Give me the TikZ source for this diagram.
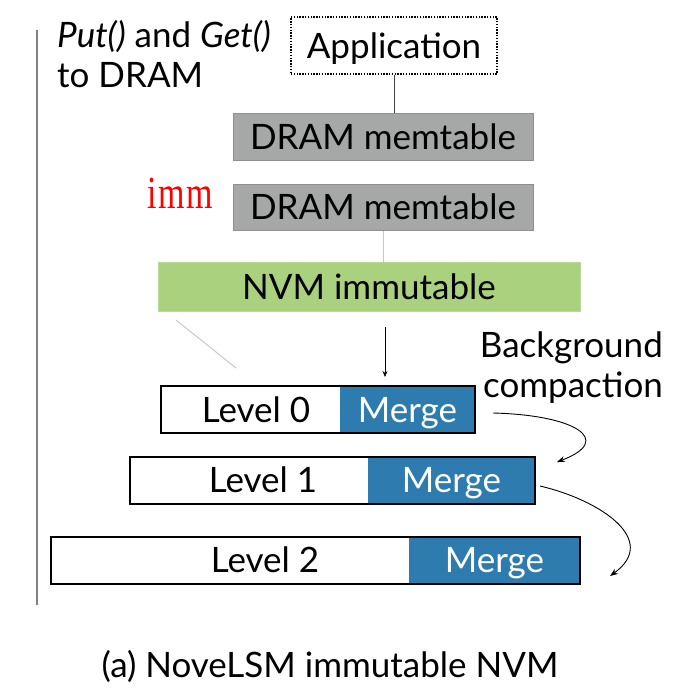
\documentclass[tikz,border=0pt]{standalone}
\usepackage{fontspec}
\setmainfont{Lato}
\newfontfamily\immfont{Liberation Serif}
\usetikzlibrary{arrows.meta}
\definecolor{mblue}{HTML}{2E7BAF}
\definecolor{dgray}{HTML}{A6A8A8}
\definecolor{dgrayb}{HTML}{8E9090}
\definecolor{ngreen}{HTML}{AAD27E}
\definecolor{ngreenb}{HTML}{B9D89A}
\tikzset{
  bigfont/.style={font=\fontsize{35}{40}\selectfont},
  txt/.style={bigfont, inner sep=0pt, text height=25.1pt, text depth=0pt},
  multitxt/.style={bigfont, inner sep=0pt},
  drambox/.style={txt, fill=dgray, draw=dgrayb, line width=1pt, minimum width=300pt, minimum height=46pt},
  lvlbox/.style={draw=black, line width=2pt, minimum height=47pt, inner sep=0pt},
  mergebox/.style={txt, fill=mblue, text=white, minimum height=47pt},
  conn/.style={line width=0.8pt},
  curvearrow/.style={line width=0.9pt, -{Stealth[length=8pt,width=6pt]}}
}
\begin{document}
\begin{tikzpicture}[x=1pt,y=-1pt]
\useasboundingbox (0,0) rectangle (680,698);
% left rule
\coordinate (vt) at (37,30);
\coordinate (vb) at (37,605);
\draw[black!50, line width=1.6pt] (vt) -- (vb);
% header text
\node[multitxt, align=left, anchor=north west] (put) at (57,20)
  {\itshape Put()\upshape{} and \itshape Get()\\to DRAM};
% application
\node[txt, draw=black, dash pattern=on 1.4pt off 1.4pt, line width=1.4pt, minimum width=206pt, minimum height=57pt] (app) at (394,45.5) {Application};
% DRAM memtables
\node[drambox] (dm1) at (383,137) {DRAM memtable};
\node[drambox] (dm2) at (383,207) {DRAM memtable};
\node[inner sep=0pt, text=red] (imm) at (180,193)
  {\scalebox{0.85}[1.15]{\immfont\fontsize{40}{44}\selectfont i\kern2pt m\kern1pt m}};
% NVM
\node[txt, fill=ngreen, draw=ngreenb, line width=1pt, minimum width=422pt, minimum height=49pt] (nvm) at (369,287) {NVM immutable};
% connectors
\draw[conn, black!75] (app.south) -- (app.south |- dm1.north);
\draw[conn, gray!45] (dm2.south) -- (dm2.south |- nvm.north);
\coordinate (d1) at (176,320);
\coordinate (d2) at (236,368);
\draw[conn, gray!50] (d1) -- (d2);
\coordinate (a1) at (385,327);
\coordinate (a2) at (385,377);
\draw[line width=0.8pt, -{Stealth[length=6pt,width=5pt]}] (a1) -- (a2);
% background compaction
\node[multitxt, align=right, anchor=north east] (bg) at (663,332) {Background\\compaction};
% Level 0
\node[mergebox, minimum width=135pt] (m0) at (407.5,409.5) {Merge};
\node[lvlbox, minimum width=314pt] (l0) at (318,409.5) {};
\node[txt] (t0) at (256,409.5) {Level 0};
% Level 1
\node[mergebox, minimum width=167pt] (m1) at (451.5,480) {Merge};
\node[lvlbox, minimum width=405pt] (l1) at (332.5,480) {};
\node[txt] (t1) at (263,480) {Level 1};
% Level 2
\node[mergebox, minimum width=171pt] (m2) at (494.5,560) {Merge};
\node[lvlbox, minimum width=529pt] (l2) at (315.5,560) {};
\node[txt] (t2) at (265,560) {Level 2};
% curved arrows
\coordinate (c1s) at (493,413);
\coordinate (c1e) at (557,462);
\draw[curvearrow] (c1s) .. controls (575,415) and (615,440) .. (c1e);
\coordinate (c2s) at (540,486);
\coordinate (c2e) at (610,576);
\draw[curvearrow] (c2s) .. controls (600,500) and (660,540) .. (c2e);
% caption
\node[txt] (cap) at (330,665) {(a) NoveLSM immutable NVM};
\end{tikzpicture}
\end{document}
